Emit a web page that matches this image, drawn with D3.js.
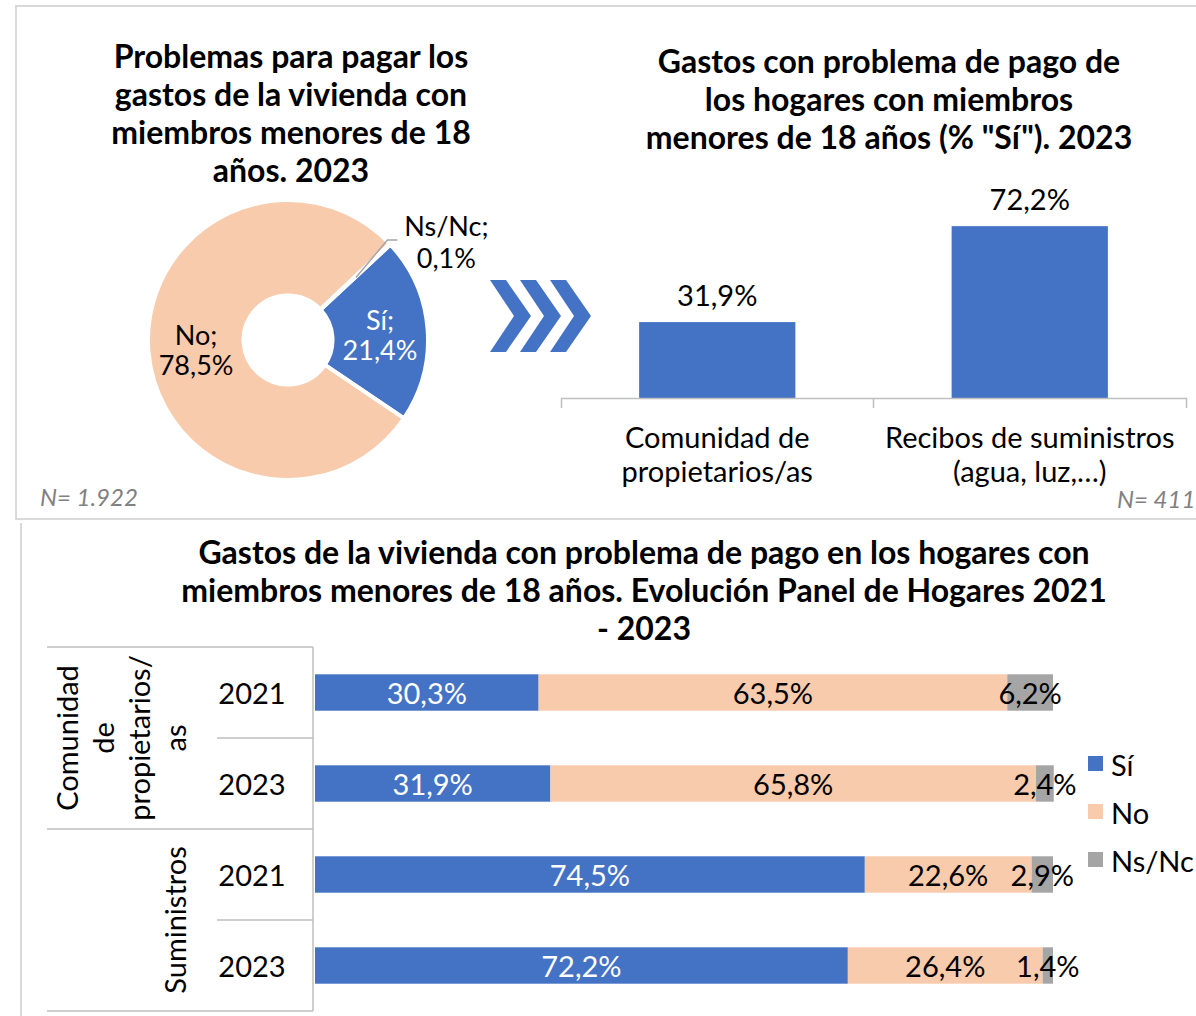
<!DOCTYPE html>
<html>
<head>
<meta charset="utf-8">
<script src="https://cdn.jsdelivr.net/npm/d3@7"></script>
<style>
  body { margin: 0; background: #fff; }
  text { font-family: Lato, "Open Sans", sans-serif; }
</style>
</head>
<body>
<script>
// donut data
const pieLabels = ['Sí', 'No', 'Ns/Nc']
const pieValues = [21.4, 78.5, 0.1]

// top right bars
const barCategories = [['Comunidad de', 'propietarios/as'], ['Recibos de suministros', '(agua, luz,…)']]
const barValues = [31.9, 72.2]

// bottom stacked bars
const groupLabels = [['Comunidad', 'de', 'propietarios/', 'as'], ['Suministros']]
const rowYears = ['2021', '2023', '2021', '2023']
const rowGroup = [0, 0, 1, 1]
const seriesNames = ['Sí', 'No', 'Ns/Nc']
const siValues = [30.3, 31.9, 74.5, 72.2]
const noValues = [63.5, 65.8, 22.6, 26.4]
const nsncValues = [6.2, 2.4, 2.9, 1.4]

const colors = ['#4472C4', '#F8CBAD', '#A5A5A5']
const fmt = v => v.toFixed(1).replace('.', ',') + '%'

const svg = d3.select('body').append('svg')
    .attr('width', 1196)
    .attr('height', 1016)

// panel frames
svg.append('rect')
    .attr('x', 16).attr('y', 6)
    .attr('width', 1200).attr('height', 513)
    .attr('fill', 'none')
    .attr('stroke', '#D9D9D9')
    .attr('stroke-width', 2)
svg.append('line')
    .attr('x1', 21).attr('x2', 21)
    .attr('y1', 523).attr('y2', 1016)
    .attr('stroke', '#D9D9D9')
    .attr('stroke-width', 2)

function title(lines, cx, y0, step) {
    const t = svg.append('text')
        .attr('text-anchor', 'middle')
        .attr('font-weight', 'bold')
        .attr('font-size', 32)
        .attr('fill', '#000')
    lines.forEach((l, i) => {
        t.append('tspan')
            .attr('x', cx)
            .attr('y', y0 + i * step)
            .attr('dominant-baseline', 'central')
            .text(l)
    })
}

title(['Problemas para pagar los', 'gastos de la vivienda con', 'miembros menores de 18', 'años. 2023'], 291, 55, 38)
title(['Gastos con problema de pago de', 'los hogares con miembros', 'menores de 18 años (% "Sí"). 2023'], 889, 60, 38)
title(['Gastos de la vivienda con problema de pago en los hogares con', 'miembros menores de 18 años. Evolución Panel de Hogares 2021', '- 2023'], 644, 551, 38)

// ---- donut ----
const cx = 288, cy = 340, R = 140, r0 = 44.5
const toRad = d => d * Math.PI / 180
const pie = d3.pie().sort(null).value(d => d)
    .startAngle(toRad(47)).endAngle(toRad(407))
const arcs = pie(pieValues)
const arc = d3.arc().innerRadius(r0).outerRadius(R)

const donut = svg.append('g').attr('transform', `translate(${cx},${cy})`)

donut.selectAll('path')
    .data(arcs)
    .join('path')
    .attr('d', arc)
    .attr('fill', (d, i) => colors[i])
    .attr('stroke', '#fff')
    .attr('stroke-width', 4)
    .attr('stroke-linejoin', 'round')

const sliceLabel = (d, i, color) => {
    const c = arc.centroid(d)
    const t = donut.append('text')
        .attr('text-anchor', 'middle')
        .attr('font-size', 27)
        .attr('fill', color)
    t.append('tspan').attr('x', c[0]).attr('y', c[1] - 13).attr('dominant-baseline', 'central').text(pieLabels[i] + ';')
    t.append('tspan').attr('x', c[0]).attr('y', c[1] + 17).attr('dominant-baseline', 'central').text(fmt(pieValues[i]))
}
sliceLabel(arcs[0], 0, '#fff')
sliceLabel(arcs[1], 1, '#000')

// Ns/Nc label with leader
{
    const d = arcs[2]
    const a = (d.startAngle + d.endAngle) / 2
    const p1 = [(R + r0) / 2 * Math.sin(a + toRad(0.6)), -(R + r0) / 2 * Math.cos(a + toRad(0.6))]
    const p2 = [(R + 1) * Math.sin(a - toRad(2)), -(R + 1) * Math.cos(a - toRad(2))]
    donut.append('polyline')
        .attr('points', [p1, p2, [p2[0] + 10, p2[1]]].map(p => p.join(',')).join(' '))
        .attr('fill', 'none')
        .attr('stroke', '#A6A6A6')
        .attr('stroke-width', 1.5)
    const t = donut.append('text')
        .attr('text-anchor', 'middle')
        .attr('font-size', 27)
        .attr('fill', '#000')
    t.append('tspan').attr('x', p2[0] + 59).attr('y', p2[1] - 15).attr('dominant-baseline', 'central').text(pieLabels[2] + ';')
    t.append('tspan').attr('x', p2[0] + 59).attr('y', p2[1] + 17).attr('dominant-baseline', 'central').text(fmt(pieValues[2]))
}

// chevrons
const chevron = d3.path()
;[0, 30, 60].forEach(o => {
    const x0 = 490 + o
    chevron.moveTo(x0, 280)
    chevron.lineTo(x0 + 16, 280)
    chevron.lineTo(x0 + 41, 316)
    chevron.lineTo(x0 + 16, 352)
    chevron.lineTo(x0, 352)
    chevron.lineTo(x0 + 24, 316)
    chevron.closePath()
})
svg.append('path').attr('d', chevron.toString()).attr('fill', '#4472C4')

// ---- top right bars ----
const xb = d3.scaleBand()
    .domain(barCategories.map((c, i) => i))
    .range([561, 1186])
    .paddingInner(0.5)
    .paddingOuter(0.25)
const yb = d3.scaleLinear().domain([0, 100]).range([398, 160])

svg.append('g')
    .selectAll('rect')
    .data(barValues)
    .join('rect')
    .attr('x', (d, i) => xb(i))
    .attr('y', d => yb(d))
    .attr('width', xb.bandwidth())
    .attr('height', d => yb(0) - yb(d))
    .attr('fill', colors[0])

svg.append('g')
    .selectAll('text')
    .data(barValues)
    .join('text')
    .attr('x', (d, i) => xb(i) + xb.bandwidth() / 2)
    .attr('y', d => yb(d) - 28)
    .attr('text-anchor', 'middle')
    .attr('dominant-baseline', 'central')
    .attr('font-size', 29)
    .attr('fill', '#000')
    .text(fmt)

const xAxis = svg.append('g')
    .attr('transform', 'translate(0,398)')
    .call(d3.axisBottom(xb).tickSizeInner(0).tickSizeOuter(10).tickFormat(''))
xAxis.select('.domain').attr('stroke', '#BFBFBF').attr('stroke-width', 1.5)
// boundary tick between the two categories
const midX = (xb(0) + xb.bandwidth() + xb(1)) / 2
xAxis.append('line')
    .attr('x1', midX).attr('x2', midX)
    .attr('y1', 0).attr('y2', 10)
    .attr('stroke', '#BFBFBF').attr('stroke-width', 1.5)
barCategories.forEach((lines, i) => {
    const t = svg.append('text')
        .attr('text-anchor', 'middle')
        .attr('font-size', 29)
        .attr('fill', '#000')
    lines.forEach((l, j) => {
        t.append('tspan')
            .attr('x', xb(i) + xb.bandwidth() / 2)
            .attr('y', 436 + j * 34)
            .attr('dominant-baseline', 'central')
            .text(l)
    })
})

// N notes
svg.append('text').attr('x', 40).attr('y', 496).attr('dominant-baseline', 'central')
    .attr('font-size', 24).attr('font-style', 'italic').attr('fill', '#808080').text('N= 1.922')
svg.append('text').attr('x', 1117).attr('y', 498).attr('dominant-baseline', 'central')
    .attr('font-size', 24).attr('font-style', 'italic').attr('fill', '#808080').text('N= 411')

// ---- bottom stacked bars ----
const rows = rowYears.map((y, i) => ({ row: i, 'Sí': siValues[i], 'No': noValues[i], 'Ns/Nc': nsncValues[i] }))
const stack = d3.stack().keys(seriesNames)(rows)

const xs = d3.scaleLinear().domain([0, 100]).range([315, 1053])
const ys = d3.scaleBand()
    .domain(rows.map(d => d.row))
    .range([647, 1011])
    .paddingInner(0.6)
    .paddingOuter(0.3)

const layers = svg.append('g')
    .selectAll('g')
    .data(stack)
    .join('g')
    .attr('fill', (d, i) => colors[i])

layers.selectAll('rect')
    .data(d => d)
    .join('rect')
    .attr('x', d => xs(d[0]))
    .attr('y', d => ys(d.data.row))
    .attr('width', d => xs(d[1]) - xs(d[0]))
    .attr('height', ys.bandwidth())

stack.forEach((layer, k) => {
    svg.append('g')
        .selectAll('text')
        .data(layer)
        .join('text')
        .attr('x', d => (xs(d[0]) + xs(d[1])) / 2)
        .attr('y', d => ys(d.data.row) + ys.bandwidth() / 2)
        .attr('text-anchor', 'middle')
        .attr('dominant-baseline', 'central')
        .attr('font-size', 29)
        .attr('fill', k === 0 ? '#fff' : '#000')
        .text(d => fmt(d[1] - d[0]))
})

// category table on the left
const gridColor = '#BFBFBF'
const rowStep = ys.step()
const tableTop = 647, tableBottom = 1011
svg.append('line').attr('x1', 313).attr('x2', 313).attr('y1', tableTop).attr('y2', tableBottom)
    .attr('stroke', gridColor).attr('stroke-width', 1.5)
rows.forEach((d, i) => {
    const yTop = tableTop + i * rowStep
    const fullLine = i === 0 || rowGroup[i] !== rowGroup[i - 1]
    svg.append('line')
        .attr('x1', fullLine ? 47 : 217).attr('x2', 313)
        .attr('y1', yTop).attr('y2', yTop)
        .attr('stroke', gridColor).attr('stroke-width', 1.5)
    svg.append('text')
        .attr('x', 252)
        .attr('y', ys(d.row) + ys.bandwidth() / 2)
        .attr('text-anchor', 'middle')
        .attr('dominant-baseline', 'central')
        .attr('font-size', 29)
        .attr('fill', '#000')
        .text(rowYears[i])
})
svg.append('line').attr('x1', 47).attr('x2', 313).attr('y1', tableBottom).attr('y2', tableBottom)
    .attr('stroke', gridColor).attr('stroke-width', 1.5)

groupLabels.forEach((lines, g) => {
    const idx = rowGroup.map((v, i) => v === g ? i : -1).filter(i => i >= 0)
    const gy = (ys(idx[0]) + ys(idx[idx.length - 1]) + ys.bandwidth()) / 2
    const gx = 174 - (lines.length - 1) * 36
    const t = svg.append('text')
        .attr('transform', `translate(${gx},${gy}) rotate(-90)`)
        .attr('text-anchor', 'middle')
        .attr('font-size', 29)
        .attr('fill', '#000')
    lines.forEach((l, j) => {
        t.append('tspan')
            .attr('x', 0)
            .attr('y', j * 36)
            .attr('dominant-baseline', 'central')
            .text(l)
    })
})

// legend
const legend = svg.append('g')
seriesNames.forEach((s, i) => {
    legend.append('rect')
        .attr('x', 1088).attr('y', 756 + i * 48)
        .attr('width', 15).attr('height', 15)
        .attr('fill', colors[i])
    legend.append('text')
        .attr('x', 1111).attr('y', 764 + i * 48)
        .attr('dominant-baseline', 'central')
        .attr('font-size', 29)
        .attr('fill', '#000')
        .text(s)
})
</script>
</body>
</html>
